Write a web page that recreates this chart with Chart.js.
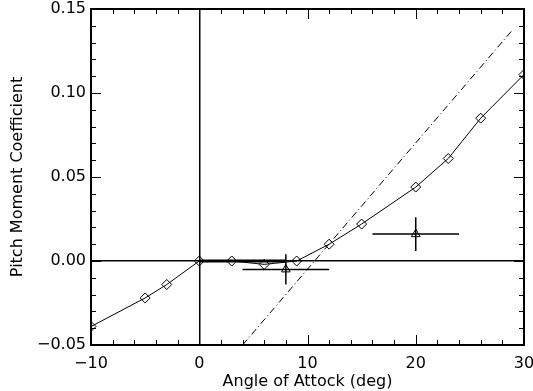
<!DOCTYPE html>
<html>
<head>
<meta charset="utf-8">
<script src="https://cdn.jsdelivr.net/npm/chart.js@4"></script>
<style>
  body { margin: 0; background: #fff; }
</style>
</head>
<body>
<canvas id="chartPitch" width="533" height="391"></canvas>
<script>
// datos de la curva calculada (rombos)
const alpha = [-10, -5, -3, 0, 3, 6, 9, 12, 15, 20, 23, 26, 30];
const cm = [-0.039, -0.022, -0.014, 0, 0, -0.002, 0, 0.010, 0.022, 0.044, 0.061, 0.085, 0.111];

// recta teórica (punto-raya)
const teoriaAlpha = [4, 29];
const teoriaCm = [-0.05, 0.138];

// tramo grueso sobre el eje cero
const planoAlpha = [0, 8];
const planoCm = [0, 0];

// datos experimentales con barras de error
const expAlpha = [8, 20];
const expCm = [-0.005, 0.016];
const expErrAlpha = [4, 4];
const expErrCm = [0.009, 0.010];

const xTicks = [-10, 0, 10, 20, 30];
const yTicks = [-0.05, 0, 0.05, 0.10, 0.15];

const fuente = { family: "'DejaVu Sans', sans-serif", size: 16 };

function menos(v, dec) {
  let s = v.toFixed(dec);
  return s.replace('-', '\u2212');
}

// barras de error como segmentos separados por null
function barras() {
  let pts = [];
  expAlpha.forEach((a, i) => {
    pts.push({ x: a - expErrAlpha[i], y: expCm[i] });
    pts.push({ x: a + expErrAlpha[i], y: expCm[i] });
    pts.push({ x: a, y: null });
    pts.push({ x: a, y: expCm[i] - expErrCm[i] });
    pts.push({ x: a, y: expCm[i] + expErrCm[i] });
    pts.push({ x: a, y: null });
  });
  return pts;
}

// marcas de los ejes hacia dentro, estilo IDL
const marcas = {
  id: 'marcas',
  afterDraw(chart) {
    const ctx = chart.ctx;
    const a = chart.chartArea;
    const sx = chart.scales.x, sy = chart.scales.y;
    ctx.save();
    ctx.strokeStyle = '#000';
    ctx.lineWidth = 1;
    ctx.beginPath();
    for (let v = -10; v <= 30; v += 2) {
      const px = Math.round(sx.getPixelForValue(v)) + 0.5;
      const len = (v % 10 === 0) ? 10 : 5;
      ctx.moveTo(px, a.bottom); ctx.lineTo(px, a.bottom - len);
      ctx.moveTo(px, a.top); ctx.lineTo(px, a.top + len);
    }
    for (let k = -5; k <= 15; k++) {
      const py = Math.round(sy.getPixelForValue(k / 100)) + 0.5;
      const len = (k % 5 === 0) ? 10 : 5;
      ctx.moveTo(a.left, py); ctx.lineTo(a.left + len, py);
      ctx.moveTo(a.right, py); ctx.lineTo(a.right - len, py);
    }
    ctx.stroke();
    ctx.lineWidth = 2;
    ctx.strokeRect(a.left, a.top, a.right - a.left, a.bottom - a.top);
    ctx.restore();
  }
};

const canvas = document.getElementById('chartPitch');
new Chart(canvas, {
  type: 'line',
  data: {
    datasets: [
      {
        label: 'Teoria',
        data: teoriaAlpha.map((a, i) => ({ x: a, y: teoriaCm[i] })),
        borderColor: '#000',
        borderWidth: 1,
        borderDash: [7, 3, 1, 3],
        pointRadius: 0
      },
      {
        label: 'Plano',
        data: planoAlpha.map((a, i) => ({ x: a, y: planoCm[i] })),
        borderColor: '#000',
        borderWidth: 3,
        pointRadius: 0
      },
      {
        label: 'Calculado',
        data: alpha.map((a, i) => ({ x: a, y: cm[i] })),
        borderColor: '#000',
        borderWidth: 1,
        pointStyle: 'rectRot',
        pointRadius: 5,
        pointBorderWidth: 1,
        pointBackgroundColor: 'rgba(255,255,255,0)',
        pointBorderColor: '#000'
      },
      {
        label: 'Error',
        data: barras(),
        borderColor: '#000',
        borderWidth: 1.5,
        spanGaps: false,
        pointRadius: 0
      },
      {
        label: 'Experimental',
        data: expAlpha.map((a, i) => ({ x: a, y: expCm[i] })),
        showLine: false,
        pointStyle: 'triangle',
        pointRadius: 5,
        pointBorderWidth: 1,
        pointBackgroundColor: 'rgba(255,255,255,0)',
        pointBorderColor: '#000'
      }
    ]
  },
  options: {
    responsive: false,
    animation: false,
    layout: { padding: { top: 9, right: 9, left: 0, bottom: 0 } },
    plugins: { legend: { display: false }, tooltip: { enabled: false } },
    scales: {
      x: {
        type: 'linear',
        min: -10, max: 30,
        afterBuildTicks: (s) => { s.ticks = xTicks.map(v => ({ value: v })); },
        afterFit: (s) => { s.height = 46; s.paddingLeft = 0; s.paddingRight = 0; },
        border: { display: false },
        grid: {
          drawTicks: false,
          lineWidth: 1.5,
          color: (c) => (c.tick && c.tick.value === 0) ? '#000' : 'rgba(0,0,0,0)'
        },
        ticks: {
          color: '#000', font: fuente, padding: 9, maxRotation: 0,
          callback: (v) => menos(v, 0)
        },
        title: {
          display: true, text: 'Angle of Attock (deg)', color: '#000',
          font: fuente, padding: { top: 0, bottom: 0 }
        }
      },
      y: {
        type: 'linear',
        min: -0.05, max: 0.15,
        afterBuildTicks: (s) => { s.ticks = yTicks.map(v => ({ value: v })); },
        afterFit: (s) => { s.width = 91; s.paddingTop = 0; s.paddingBottom = 0; },
        border: { display: false },
        grid: {
          drawTicks: false,
          lineWidth: 1.5,
          color: (c) => (c.tick && Math.abs(c.tick.value) < 1e-9) ? '#000' : 'rgba(0,0,0,0)'
        },
        ticks: {
          color: '#000', font: fuente, padding: 5,
          callback: (v) => menos(v, 2)
        },
        title: {
          display: true, text: 'Pitch Moment Coefficient', color: '#000',
          font: fuente, padding: { top: 8, bottom: 0 }
        }
      }
    }
  },
  plugins: [marcas]
});
</script>
</body>
</html>
